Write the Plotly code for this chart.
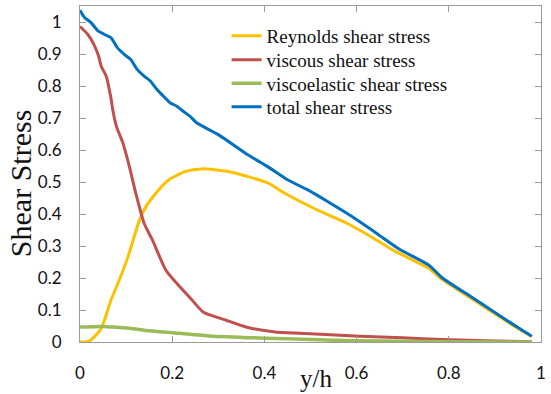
import plotly.graph_objects as go

# Reynolds shear stress
y_reynolds = [0.0, 0.01, 0.02, 0.031, 0.045, 0.053, 0.067, 0.085, 0.104, 0.129, 0.143, 0.171,
              0.193, 0.229, 0.264, 0.321, 0.364, 0.407, 0.45, 0.507, 0.579, 0.643, 0.679,
              0.757, 0.786, 0.85, 0.9, 0.95, 0.98]
tau_reynolds = [0.0, 0.0, 0.003, 0.016, 0.04, 0.068, 0.13, 0.193, 0.266, 0.381, 0.423, 0.476,
                0.507, 0.533, 0.541, 0.533, 0.517, 0.497, 0.46, 0.418, 0.371, 0.319, 0.287,
                0.230, 0.195, 0.135, 0.088, 0.042, 0.017]

# viscous shear stress
y_viscous = [0.0, 0.017, 0.03, 0.04, 0.046, 0.057, 0.067, 0.071, 0.079, 0.093, 0.107, 0.121,
             0.139, 0.157, 0.186, 0.207, 0.243, 0.267, 0.317, 0.36, 0.424, 0.5, 0.607, 0.7,
             0.786, 0.9, 0.98]
tau_viscous = [0.986, 0.961, 0.93, 0.895, 0.862, 0.83, 0.763, 0.726, 0.674, 0.622, 0.549, 0.465,
               0.371, 0.319, 0.225, 0.188, 0.131, 0.094, 0.068, 0.047, 0.031, 0.026, 0.018,
               0.013, 0.0075, 0.003, 0.001]

# viscoelastic shear stress
y_visco = [0.0, 0.03, 0.06, 0.08, 0.103, 0.139, 0.2, 0.28, 0.4, 0.5, 0.6, 0.8, 0.98]
tau_visco = [0.047, 0.048, 0.048, 0.046, 0.044, 0.037, 0.029, 0.019, 0.012, 0.008, 0.004,
             0.001, 0.0]

# total shear stress
y_total = [0.0, 0.01, 0.024, 0.039, 0.053, 0.067, 0.081, 0.096, 0.11, 0.124, 0.139, 0.153,
           0.167, 0.181, 0.196, 0.21, 0.224, 0.239, 0.253, 0.3, 0.364, 0.407, 0.45, 0.493,
           0.536, 0.579, 0.643, 0.693, 0.757, 0.786, 0.85, 0.9, 0.95, 0.98]
tau_total = [1.037, 1.014, 0.998, 0.972, 0.961, 0.951, 0.92, 0.899, 0.883, 0.852, 0.831, 0.815,
             0.789, 0.768, 0.747, 0.737, 0.721, 0.705, 0.685, 0.648, 0.585, 0.548, 0.507,
             0.476, 0.44, 0.402, 0.34, 0.29, 0.24, 0.2, 0.14, 0.092, 0.045, 0.018]

x_ticks = [0, 0.2, 0.4, 0.6, 0.8, 1]
x_tick_text = ["0", "0.2", "0.4", "0.6", "0.8", "1"]
y_ticks = [0, 0.1, 0.2, 0.3, 0.4, 0.5, 0.6, 0.7, 0.8, 0.9, 1]
y_tick_text = ["0", "0.1", "0.2", "0.3", "0.4", "0.5", "0.6", "0.7", "0.8", "0.9", "1"]

series = [
    ("Reynolds shear stress", y_reynolds, tau_reynolds, "#FFC000", 3),
    ("viscous shear stress", y_viscous, tau_viscous, "#C0504D", 3),
    ("viscoelastic shear stress", y_visco, tau_visco, "#9BBB59", 3.5),
    ("total shear stress", y_total, tau_total, "#0070C0", 3),
]

# one legend box per entry so the rows sit at a tight, fixed pitch
legend_ids = ["legend", "legend2", "legend3", "legend4"]
legend_rows = [0.9107, 0.8393, 0.770, 0.6994]

fig = go.Figure()
for (name, xs, ys, color, w), lid in zip(series, legend_ids):
    fig.add_trace(go.Scatter(
        x=xs, y=ys, name=name, mode="lines", legend=lid,
        line=dict(color=color, width=w, shape="spline", smoothing=0.6),
    ))

serif = "Liberation Serif, Times New Roman, serif"
legend_style = dict(
    x=0.318, xanchor="left", yanchor="middle",
    bgcolor="rgba(0,0,0,0)",
    font=dict(family=serif, size=19, color="#111111"),
)
legend_layout = {lid: dict(y=ly, **legend_style) for lid, ly in zip(legend_ids, legend_rows)}

axis_common = dict(
    showline=True, linecolor="#9A9A9A", linewidth=1,
    mirror="ticks", ticks="inside", ticklen=6, tickcolor="#9A9A9A",
    showgrid=False, zeroline=False,
    tickfont=dict(family="Lato, Liberation Sans, sans-serif", size=17, color="#111111"),
)

fig.update_layout(
    width=551, height=394,
    margin=dict(l=80, r=5, t=6, b=52),
    paper_bgcolor="white", plot_bgcolor="white",
    showlegend=True,
    xaxis=dict(range=[0, 1], tickvals=x_ticks, ticktext=x_tick_text,
               ticklabelstandoff=16, **axis_common),
    yaxis=dict(range=[0, 1.05], tickvals=y_ticks, ticktext=y_tick_text,
               ticklabelstandoff=14, **axis_common),
    annotations=[
        dict(text="Shear Stress", textangle=-90, xref="paper", yref="paper",
             x=-0.13, y=0.47, xanchor="center", yanchor="middle", showarrow=False,
             font=dict(family=serif, size=30, color="#111111")),
        dict(text="y/h", xref="paper", yref="paper",
             x=0.511, y=-0.11, xanchor="center", yanchor="middle", showarrow=False,
             font=dict(family=serif, size=25, color="#111111")),
    ],
    **legend_layout,
)

fig.write_html("out.html")
